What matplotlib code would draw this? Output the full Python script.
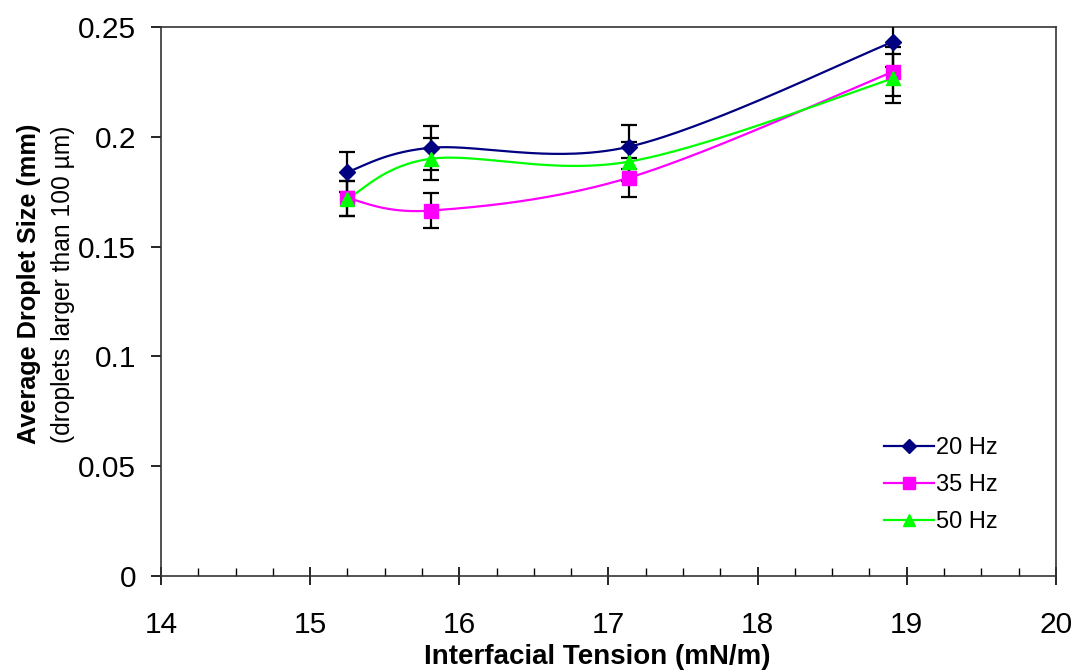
import numpy as np
import matplotlib
matplotlib.use("Agg")
import matplotlib.pyplot as plt
from matplotlib.ticker import MultipleLocator

plt.rcParams['font.family'] = ['Liberation Sans', 'DejaVu Sans']

# data
tension = [15.25, 15.81, 17.14, 18.91]
series_names = ["20 Hz", "35 Hz", "50 Hz"]
size_20 = [0.184, 0.195, 0.1955, 0.2433]
size_35 = [0.172, 0.1664, 0.1814, 0.2297]
size_50 = [0.1718, 0.190, 0.1887, 0.2266]
err_20 = [0.009, 0.010, 0.010, 0.0115]
err_35 = [0.008, 0.008, 0.009, 0.011]
err_50 = [0.008, 0.0095, 0.009, 0.011]
x_ticks = [14, 15, 16, 17, 18, 19, 20]
y_ticks = [0, 0.05, 0.1, 0.15, 0.2, 0.25]
y_ticklabels = ["0", "0.05", "0.1", "0.15", "0.2", "0.25"]

colors = ["#000080", "#FF00FF", "#00FF00"]
markers = ["D", "s", "^"]
msizes = [8, 9.5, 10]


def smooth(xs, ys, n=60):
    P = np.column_stack([xs, ys]).astype(float)
    m = len(P)
    out = [P[0]]
    for i in range(m - 1):
        p0 = P[i - 1] if i > 0 else P[i]
        p1 = P[i]
        p2 = P[i + 1]
        p3 = P[i + 2] if i + 2 < m else P[i + 1]
        c1 = p1 + (p2 - p0) / 6.0
        c2 = p2 - (p3 - p1) / 6.0
        t = np.linspace(0, 1, n)[1:, None]
        seg = ((1 - t) ** 3) * p1 + 3 * ((1 - t) ** 2) * t * c1 + 3 * (1 - t) * t ** 2 * c2 + t ** 3 * p2
        out.extend(seg)
    out = np.array(out)
    return out[:, 0], out[:, 1]


fig = plt.figure(figsize=(10.73, 6.71), dpi=100)
ax = fig.add_axes([0.150, 0.1416, 0.834, 0.8182])

all_vals = [size_20, size_35, size_50]
all_errs = [err_20, err_35, err_50]

for vals, errs, c, mk, ms, name in zip(all_vals, all_errs, colors, markers, msizes, series_names):
    sx, sy = smooth(tension, vals)
    ax.plot(sx, sy, color=c, lw=1.6, zorder=2)
    ax.errorbar(tension, vals, yerr=errs, fmt='none', ecolor='black',
                elinewidth=1.6, capsize=6, capthick=1.6, zorder=3)
    ax.plot(tension, vals, linestyle='none', marker=mk, color=c, markersize=ms,
            markeredgecolor=c, zorder=4)
    ax.plot([], [], color=c, lw=1.6, marker=mk, markersize=ms * 0.9, label=name)

ax.set_xlim(14, 20)
ax.set_ylim(0, 0.25)
ax.set_xticks(x_ticks)
ax.set_xticklabels([str(v) for v in x_ticks])
ax.xaxis.set_minor_locator(MultipleLocator(0.25))
ax.set_yticks(y_ticks)
ax.set_yticklabels(y_ticklabels)

for s in ax.spines.values():
    s.set_color('#333333')
    s.set_linewidth(1.2)

ax.tick_params(axis='x', which='major', direction='inout', length=13, width=1.2,
               labelsize=21.5, pad=18.5)
ax.tick_params(axis='x', which='minor', direction='in', length=5.5, width=1.0)
ax.tick_params(axis='y', which='major', direction='out', length=7, width=1.2,
               labelsize=21.5, pad=11)
ax.tick_params(top=False, right=False)

ax.set_xlabel("Interfacial Tension (mN/m)", fontsize=20, fontweight='bold', labelpad=4)
ax.xaxis.label.set_x(0.488)

fig.text(0.027, 0.577, "Average Droplet Size (mm)", rotation=90, fontsize=18.2,
         fontweight='bold', ha='center', va='center')
fig.text(0.059, 0.577, "(droplets larger than 100 \u00b5m)", rotation=90, fontsize=17.7,
         ha='center', va='center')

leg = ax.legend(loc='upper left', bbox_to_anchor=(884 / 1073, 1 - 437 / 671),
                bbox_transform=fig.transFigure, frameon=False, fontsize=17,
                handlelength=2.1, handletextpad=0.1, labelspacing=0.64, borderpad=0,
                borderaxespad=0)

fig.savefig("out.png", dpi=100, facecolor='white')
